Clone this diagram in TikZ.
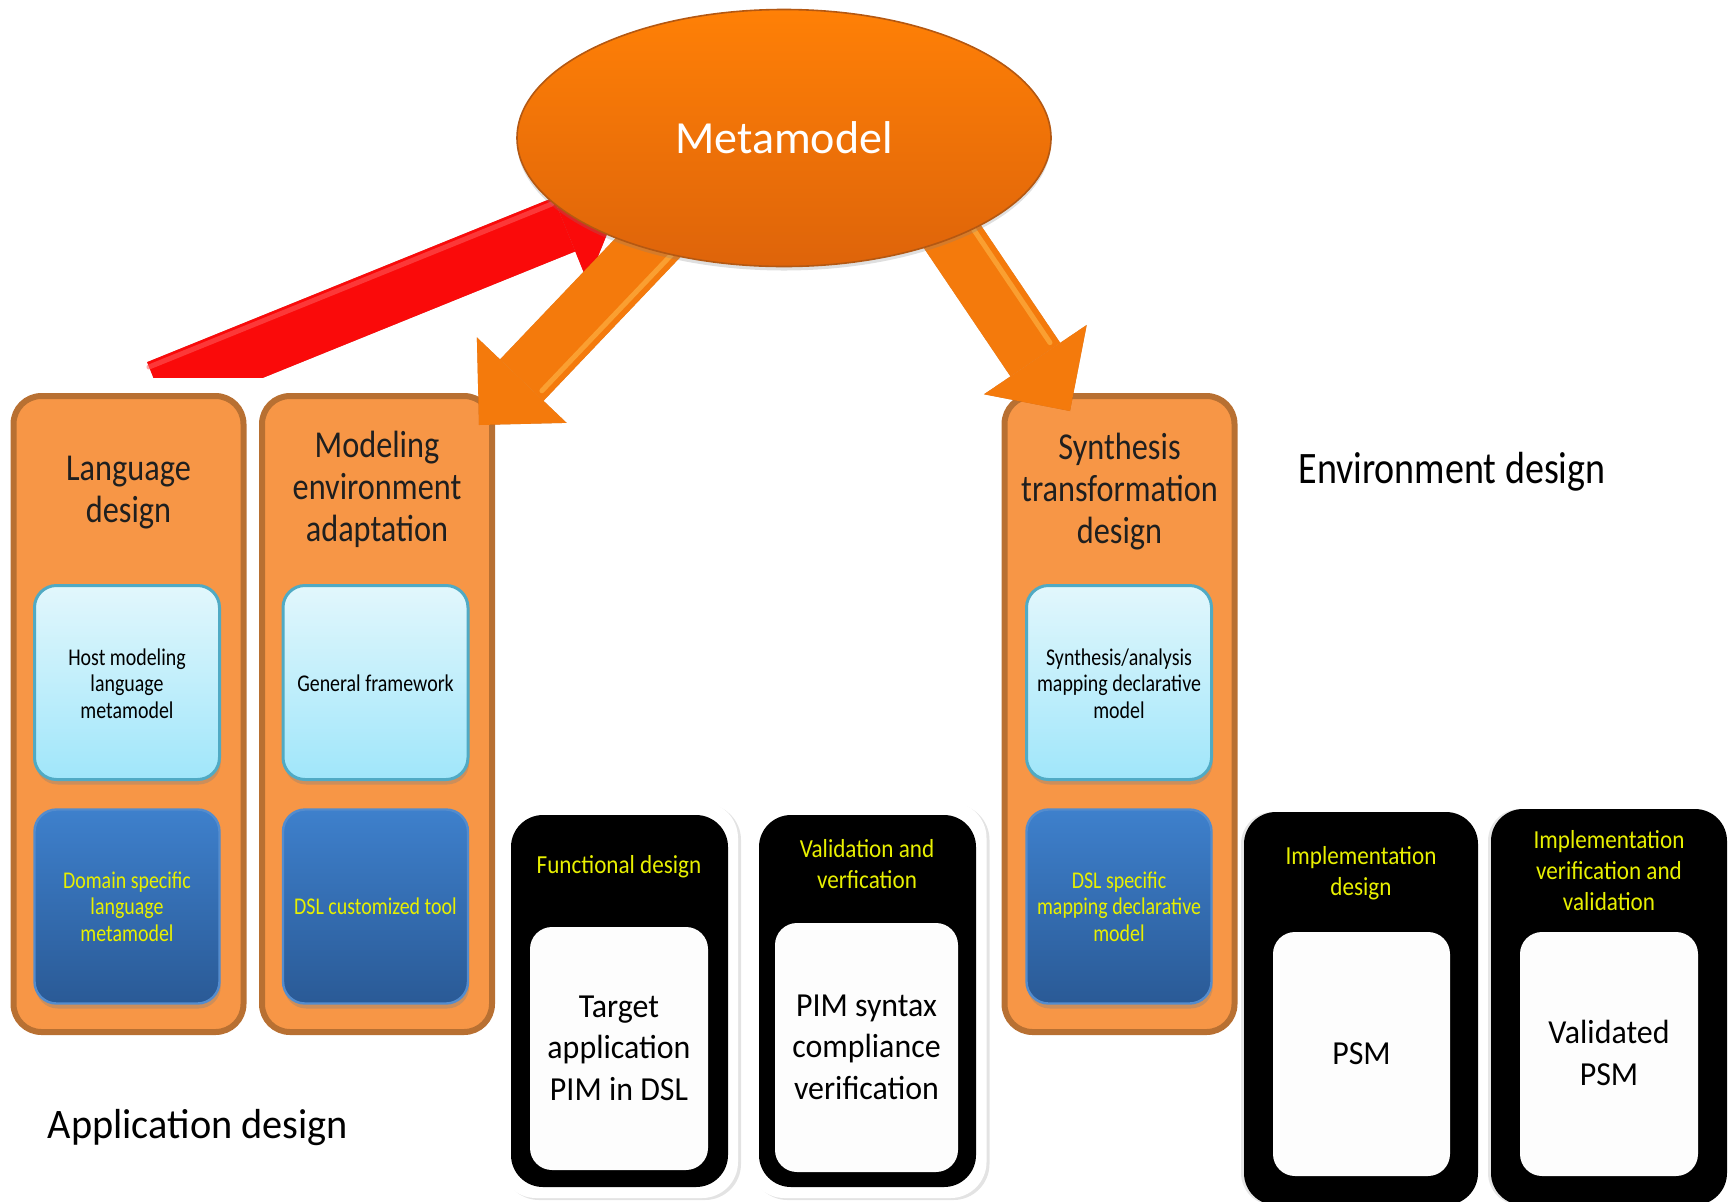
\documentclass[tikz,border=0pt]{standalone}
\usepackage{graphicx}
\usepackage{fontspec}
\setmainfont{Carlito}
\usetikzlibrary{shapes.geometric,arrows.meta,shadows,calc}

\definecolor{ofill}{RGB}{247,150,70}
\definecolor{obord}{RGB}{184,112,50}
\definecolor{ctop}{RGB}{226,247,252}
\definecolor{cbot}{RGB}{160,230,250}
\definecolor{cbord}{RGB}{80,170,196}
\definecolor{btop}{RGB}{62,128,204}
\definecolor{bbot}{RGB}{42,90,150}
\definecolor{bbord}{RGB}{84,140,205}
\definecolor{ytext}{RGB}{232,240,0}
\definecolor{etop}{RGB}{255,128,6}
\definecolor{ebot}{RGB}{222,100,10}
\definecolor{ebord}{RGB}{180,88,18}
\definecolor{arrOr}{RGB}{244,122,12}
\definecolor{arrOrDark}{RGB}{170,80,10}
\definecolor{arrOrLight}{RGB}{255,190,80}
\definecolor{arrRed}{RGB}{250,10,10}
\definecolor{arrRedDark}{RGB}{160,0,0}
\definecolor{arrRedLight}{RGB}{255,95,95}
\definecolor{inwhite}{RGB}{253,253,253}

% horizontally condensed, centred multi-line text
\newcommand\sqz[2]{\scalebox{#1}[1]{\begin{tabular}{@{}c@{}}#2\end{tabular}}}

\begin{document}
\begin{tikzpicture}[x=0.5pt,y=-0.5pt,
  every node/.style={inner sep=0pt,outer sep=0pt},
  obox/.style={draw=obord,line width=3pt,fill=ofill,rounded corners=14pt,
    minimum width=115pt,minimum height=318pt},
  otitle/.style={font=\fontsize{19}{21}\selectfont,text=black!88},
  cbox/.style={draw=cbord,line width=1.5pt,top color=ctop,bottom color=cbot,
    rounded corners=11pt,minimum width=92.5pt,minimum height=97pt,
    drop shadow={shadow xshift=0.6pt,shadow yshift=-2.5pt,opacity=0.35}},
  bbox/.style={draw=bbord,line width=1.2pt,top color=btop,bottom color=bbot,
    rounded corners=11pt,minimum width=92.5pt,minimum height=97pt,
    drop shadow={shadow xshift=0.6pt,shadow yshift=-2.5pt,opacity=0.35}},
  smalltxt/.style={font=\fontsize{12}{13.25}\selectfont},
  frame/.style={fill=white,rounded corners=18pt,minimum width=119pt,minimum height=198pt,
    drop shadow={shadow xshift=1.5pt,shadow yshift=-1pt,opacity=0.22}},
  blk/.style={fill=black,rounded corners=16pt},
  win/.style={fill=inwhite,rounded corners=11pt},
  bodytxt/.style={font=\fontsize{16.8}{20.75}\selectfont,text=black},
  ytitle/.style={font=\fontsize{13}{15.5}\selectfont,text=ytext},
  redarrow/.style={line width=29pt,draw=arrRed,
    -{Triangle[width=62pt 0 0,length=30pt 0 0,line width=0pt 0 0]}},
  orarrow/.style={line width=30pt,draw=arrOr,
    -{Triangle[width=62pt 0 0,length=31pt 0 0,line width=0pt 0 0]}},
  gleam/.style={line width=2.5pt,line cap=round,opacity=0.55}
]
\useasboundingbox (0,0) rectangle (1729,1201);
\clip (0,0) rectangle (1729,1201);

% ---- design columns ----
\node[obox] (lang) at (128.5,714) {};
\node[obox] (modenv) at (377,714) {};
\node[obox] (synth) at (1119.5,714) {};
\node[otitle] (langT) at (128.5,493) {\sqz{0.85}{Language\\design}};
\node[otitle] (modT) at (377,491.5) {\sqz{0.85}{Modeling\\environment\\adaptation}};
\node[otitle] (synT) at (1119.5,493) {\sqz{0.85}{Synthesis\\transformation\\design}};

\node[cbox] (hostm) at (127,682.5) {};
\node[cbox] (genfw) at (375.5,682.5) {};
\node[cbox] (synmap) at (1119,682.5) {};
\node[bbox] (dslmeta) at (127,906.5) {};
\node[bbox] (dsltool) at (375.5,906.5) {};
\node[bbox] (dslmap) at (1119,906.5) {};

\node[smalltxt,text=black] (hostmT) at ([yshift=-2pt]hostm.center) {\sqz{0.83}{Host modeling\\language\\metamodel}};
\node[smalltxt,text=black] (genfwT) at ([yshift=-2pt]genfw.center) {\sqz{0.83}{General framework}};
\node[smalltxt,text=black] (synmapT) at ([yshift=-2pt]synmap.center) {\sqz{0.83}{Synthesis/analysis\\mapping declarative\\model}};
\node[smalltxt,text=ytext] (dslmetaT) at ([yshift=-1.5pt]dslmeta.center) {\sqz{0.83}{Domain specific\\language\\metamodel}};
\node[smalltxt,text=ytext] (dsltoolT) at ([yshift=-1.5pt]dsltool.center) {\sqz{0.83}{DSL customized tool}};
\node[smalltxt,text=ytext] (dslmapT) at ([yshift=-1.5pt]dslmap.center) {\sqz{0.83}{DSL specific\\mapping declarative\\model}};

% ---- application / implementation steps ----
\node[frame] (funcF) at (619,1000) {};
\node[frame] (valF) at (867.5,1000) {};
\node[blk,minimum width=108.5pt,minimum height=186pt] (func) at (619.5,1001) {};
\node[blk,minimum width=108.5pt,minimum height=186pt] (val) at (867.5,1001) {};
\node[blk,minimum width=117pt,minimum height=196.5pt,
  drop shadow={shadow xshift=-1.5pt,shadow yshift=0pt,opacity=0.2}] (impl) at (1361,1008.5) {};
\node[blk,minimum width=118pt,minimum height=198pt,
  drop shadow={shadow xshift=-1.5pt,shadow yshift=0pt,opacity=0.2}] (implv) at (1609,1007) {};

\node[win,minimum width=89pt,minimum height=121.5pt] (funcin) at (619,1048.5) {};
\node[win,minimum width=91.5pt,minimum height=124.5pt] (valin) at (866.5,1047.5) {};
\node[win,minimum width=88.5pt,minimum height=122pt] (implin) at (1361.5,1054) {};
\node[win,minimum width=89pt,minimum height=122pt] (implvin) at (1609,1054) {};

\node[bodytxt] (funcinT) at ([yshift=-1pt]funcin.center) {\sqz{0.95}{Target\\application\\PIM in DSL}};
\node[bodytxt] (valinT) at ([yshift=-1pt]valin.center) {\sqz{0.95}{PIM syntax\\compliance\\verification}};
\node[bodytxt] (implinT) at ([yshift=-1pt]implin.center) {\sqz{0.95}{PSM}};
\node[bodytxt] (implvinT) at ([yshift=-1pt]implvin.center) {\sqz{0.95}{Validated\\PSM}};

\node[ytitle] (funcT) at (619,867) {\sqz{0.89}{Functional design}};
\node[ytitle] (valT) at (867,867) {\sqz{0.89}{Validation and\\verfication}};
\node[ytitle] (implT) at (1361,874) {\sqz{0.89}{Implementation\\design}};
\node[ytitle] (implvT) at (1609,873) {\sqz{0.89}{Implementation\\verification and\\validation}};

% ---- phase labels ----
\node[font=\fontsize{22.5}{27}\selectfont] (envL) at (1452,472) {\scalebox{0.845}[1]{Environment design}};
\node[font=\fontsize{21}{25}\selectfont] (appL) at (198,1128) {\scalebox{0.96}[1]{Application design}};

% ---- block arrows to and from the metamodel ----
\coordinate (redTail) at (158,389);
\coordinate (redTip) at (620,202);
\coordinate (lStart) at (700,193);
\coordinate (lTip) at (479,425);
\coordinate (rStart) at (902,162);
\coordinate (rTip) at (1070,411);

\begin{scope}
  \clip (0,0) rectangle (1729,377);
  \draw[redarrow,draw=arrRedDark,opacity=0.6,shift={(2,3)}] (redTail) -- (redTip);
  \draw[redarrow] (redTail) -- (redTip);
  \draw[gleam,draw=arrRedLight] ($(redTail)+(-9,-22)$) -- ($(redTip)!32pt!(redTail)+(-9,-22)$);
\end{scope}
\draw[orarrow,draw=arrOrDark,opacity=0.6,shift={(2,3)}] (lStart) -- (lTip);
\draw[orarrow] (lStart) -- (lTip);
\draw[gleam,draw=arrOrLight] ($(lStart)+(16,15)$) -- ($(lTip)!34pt!(lStart)+(16,15)$);
\draw[orarrow,draw=arrOrDark,opacity=0.6,shift={(2,3)}] (rStart) -- (rTip);
\draw[orarrow] (rStart) -- (rTip);
\draw[gleam,draw=arrOrLight] ($(rStart)+(18,-12)$) -- ($(rTip)!34pt!(rStart)+(18,-12)$);

% ---- metamodel ----
\node[ellipse,minimum width=267pt,minimum height=128.5pt,top color=etop,bottom color=ebot,
  draw=ebord,line width=0.8pt,text=white,font=\fontsize{23}{27}\selectfont,
  drop shadow={shadow xshift=0pt,shadow yshift=-2pt,opacity=0.25}] (meta) at (784,138) {Metamodel};
\end{tikzpicture}
\end{document}
